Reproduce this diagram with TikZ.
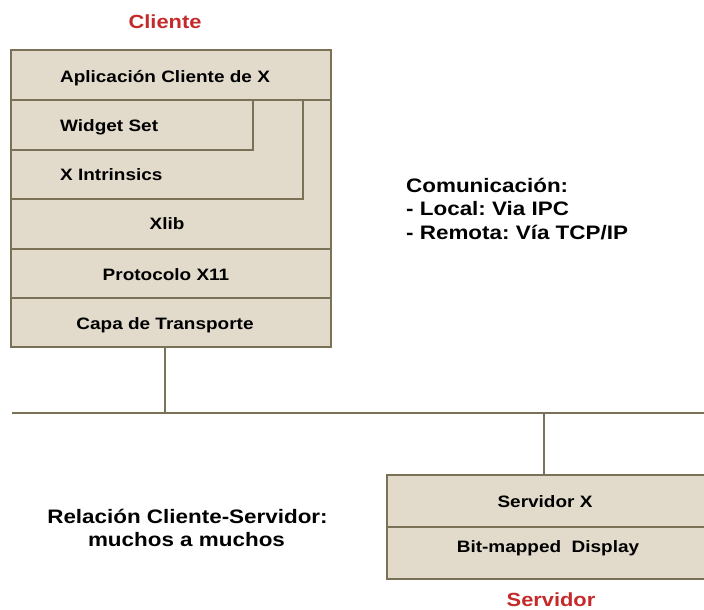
\documentclass[tikz,border=0pt]{standalone}
\usepackage{fontspec}
\setmainfont{Liberation Sans}[FakeStretch=1.15]
\frenchspacing
\definecolor{boxfill}{HTML}{E2DBCB}
\definecolor{boxline}{HTML}{7A7157}
\definecolor{titlered}{HTML}{C42A2A}
\begin{document}
\begin{tikzpicture}[x=1pt,y=-1pt,
  box/.style={draw=boxline, fill=boxfill, line width=1.6pt, rectangle, inner sep=0pt, anchor=north west},
  lbl/.style={font=\fontsize{16.5}{20}\selectfont\bfseries, inner sep=0pt, text height=0.72em, text depth=0pt, yshift=-3pt},
  big/.style={font=\fontsize{19.5}{23}\selectfont\bfseries, inner sep=0pt},
  title/.style={font=\fontsize{19}{23}\selectfont\bfseries, text=titlered, inner sep=0pt, text height=0.72em, text depth=0pt, yshift=-3pt},
  wire/.style={draw=boxline, line width=1.6pt}]
\useasboundingbox (0,0) rectangle (704,610);
% client stack
\node[box, minimum width=320pt, minimum height=297pt] (client) at (10,49) {};
\node[box, minimum width=320pt, minimum height=50pt] (app) at (10,49) {};
\node[box, minimum width=292pt, minimum height=99pt] (intr) at (10,99) {};
\node[box, minimum width=242pt, minimum height=50pt] (widget) at (10,99) {};
\node[box, minimum width=320pt, minimum height=49pt] (prot) at (10,248) {};
\node[box, minimum width=320pt, minimum height=49pt] (capa) at (10,297) {};
\node[lbl] (tapp) at (165,76) {Aplicación Cliente de X};
\node[lbl, anchor=west] (twid) at (60,124.5) {Widget Set};
\node[lbl, anchor=west] (tint) at (60,174) {X Intrinsics};
\node[lbl] (txlib) at (167,222.5) {Xlib};
\node[lbl] (tprot) at (166,274) {Protocolo X11};
\node[lbl] (tcapa) at (165,322.5) {Capa de Transporte};
\node[title] (tcli) at (165,21.5) {Cliente};
% server stack
\node[box, minimum width=318pt, minimum height=52pt] (srv) at (386,474) {};
\node[box, minimum width=318pt, minimum height=52pt] (disp) at (386,526) {};
\node[lbl] (tsrv) at (545,501) {Servidor X};
\node[lbl] (tdisp) at (548,546) {Bit-mapped\ \ Display};
\node[title] (tsrvt) at (551,600) {Servidor};
% bus
\coordinate (busL) at (12,413);
\coordinate (busR) at (704,413);
\coordinate (cdrop) at (165,413);
\coordinate (sdrop) at (544,413);
\draw[wire] (busL) -- (busR);
\draw[wire] (capa.south -| cdrop) -- (cdrop);
\draw[wire] (sdrop) -- (srv.north -| sdrop);
% texts
\node[big, anchor=base west] (com1) at (406,192) {Comunicación:};
\node[big, anchor=base west] (com2) at (406,215.5) {- Local: Via IPC};
\node[big, anchor=base west] (com3) at (406,239) {- Remota: Vía TCP/IP};
\node[big, anchor=base] (rel1) at (187.5,523) {Relación Cliente-Servidor:};
\node[big, anchor=base] (rel2) at (186.5,546) {muchos a muchos};
\end{tikzpicture}
\end{document}
